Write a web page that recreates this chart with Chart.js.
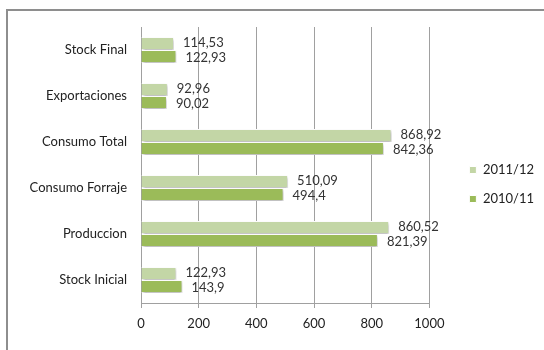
<!DOCTYPE html>
<html>
<head>
<meta charset="utf-8">
<script src="https://cdn.jsdelivr.net/npm/chart.js@4"></script>
<style>
  body { margin: 0; background: #fff; }
  #wrap { position: relative; width: 544px; height: 350px; overflow: hidden; }
  #frame { position: absolute; left: 6px; top: 9px; width: 600px; height: 400px; border: 2px solid #8e8e8e; }
  canvas { position: absolute; left: 0; top: 0; }
</style>
</head>
<body>
<div id="wrap">
  <div id="frame"></div>
  <canvas id="chart" width="544" height="350"></canvas>
</div>
<script>
const categorias = ["Stock Final", "Exportaciones", "Consumo Total", "Consumo Forraje", "Produccion", "Stock Inicial"]
const serie1112 = [114.53, 92.96, 868.92, 510.09, 860.52, 122.93]
const serie1011 = [122.93, 90.02, 842.36, 494.4, 821.39, 143.9]
const ticksX = [0, 200, 400, 600, 800, 1000]

const fuente = "Lato, 'Open Sans', sans-serif"

// etiquetas de valor al final de cada barra, con coma decimal
const etiquetas = {
    id: 'etiquetas',
    afterDatasetsDraw(chart) {
        const ctx = chart.ctx
        ctx.save()
        ctx.font = "13px " + fuente
        ctx.fillStyle = '#333'
        ctx.textBaseline = 'middle'
        chart.data.datasets.forEach((ds, i) => {
            chart.getDatasetMeta(i).data.forEach((bar, j) => {
                const txt = String(ds.data[j]).replace('.', ',')
                ctx.fillText(txt, bar.x + 9, bar.y + (i == 0 ? -1 : 1))
            })
        })
        ctx.restore()
    }
}

// sombra suave bajo las barras
const sombra = {
    id: 'sombra',
    beforeDatasetsDraw(chart) {
        chart.ctx.save()
        chart.ctx.shadowColor = 'rgba(0,0,0,0.3)'
        chart.ctx.shadowBlur = 3
        chart.ctx.shadowOffsetX = 1
        chart.ctx.shadowOffsetY = 2
    },
    afterDatasetsDraw(chart) {
        chart.ctx.restore()
    }
}

// separa la leyenda del area del grafico
const moverLeyenda = {
    id: 'moverLeyenda',
    afterLayout(chart) {
        const lg = chart.legend
        lg.left += 24
        lg.right += 24
        lg.top -= 4
        lg.bottom -= 4
    }
}

new Chart(document.getElementById("chart"), {
    type: 'bar',
    data: {
        labels: categorias,
        datasets: [
            { label: '2011/12', data: serie1112, backgroundColor: '#c3d6a6', borderColor: '#ffffff', borderWidth: 1 },
            { label: '2010/11', data: serie1011, backgroundColor: '#9bbb59', borderColor: '#ffffff', borderWidth: 1 }
        ]
    },
    options: {
        indexAxis: 'y',
        responsive: false,
        animation: false,
        categoryPercentage: 0.56,
        barPercentage: 1,
        layout: { padding: { top: 27, right: 24, bottom: 0, left: 10 } },
        scales: {
            x: {
                min: 0, max: 1000,
                afterBuildTicks: s => { s.ticks = ticksX.map(v => ({ value: v })) },
                grid: { color: '#a0a0a0', tickLength: 5, drawOnChartArea: true },
                border: { color: '#a0a0a0' },
                ticks: { color: '#222', font: { size: 13, family: fuente }, padding: 8, callback: v => String(v) },
                afterFit: s => { s.height = 47 }
            },
            y: {
                grid: { display: false, drawTicks: true, tickLength: 5, offset: true, color: '#a0a0a0' },
                border: { color: '#a0a0a0' },
                ticks: { color: '#222', font: { size: 13, family: fuente }, padding: 9 },
                afterFit: s => { s.width = 131 }
            }
        },
        plugins: {
            legend: {
                position: 'right',
                labels: {
                    boxWidth: 7, boxHeight: 7, padding: 16, color: '#222',
                    font: { size: 13, family: fuente }
                }
            },
            tooltip: { enabled: false }
        }
    },
    plugins: [sombra, etiquetas, moverLeyenda]
})
</script>
</body>
</html>
